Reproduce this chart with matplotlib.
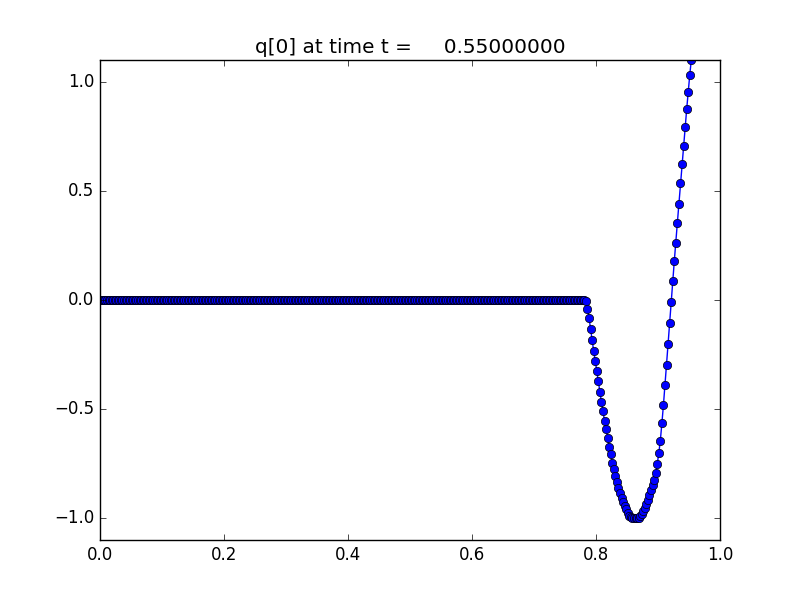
#!/usr/bin/env python3
"""Redraw the q[0] snapshot at t = 0.55."""

import matplotlib
matplotlib.use('Agg')
import matplotlib.pyplot as plt
import numpy as np

plt.style.use('classic')

# Grid: 400 cells on [0, 1], values plotted at cell centres
mx = 400
dx = 1.0 / mx

# q[0], cell by cell.
# Cells 0..312 sit flat on zero.
q_flat = [0.0] * 313

# Cells 313..382: the dip and the steep rise on the right
q_wave = [
    -0.005, -0.039, -0.082, -0.134, -0.183, -0.234, -0.278, -0.327,
    -0.373, -0.421, -0.467, -0.510, -0.554, -0.592, -0.634, -0.674,
    -0.707, -0.746, -0.776, -0.807, -0.834, -0.861, -0.886, -0.907,
    -0.925, -0.943, -0.960, -0.976, -0.988, -0.995, -1.000, -1.000,
    -1.000, -0.999, -0.997, -0.991, -0.980, -0.968, -0.953, -0.934,
    -0.916, -0.896, -0.873, -0.850, -0.825, -0.795, -0.752, -0.703,
    -0.644, -0.566, -0.482, -0.390, -0.298, -0.201, -0.105, -0.010,
    0.085, 0.177, 0.263, 0.355, 0.442, 0.534, 0.622, 0.707,
    0.792, 0.874, 0.953, 1.032, 1.101, 1.170,
]

q = np.array(q_flat + q_wave)
x = (np.arange(len(q)) + 0.5) * dx

t = 0.55

fig, ax = plt.subplots(figsize=(8, 6), dpi=100)
ax.plot(x, q, 'bo-')
ax.set_xlim(0.0, 1.0)
ax.set_ylim(-1.1, 1.1)
ax.set_title('q[0] at time t = %14.8f' % t)

fig.savefig('out.png', dpi=100)
